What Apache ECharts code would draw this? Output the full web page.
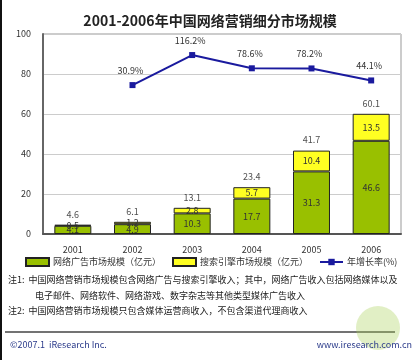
<!DOCTYPE html>
<html><head><meta charset="utf-8">
<script src="https://cdn.jsdelivr.net/npm/echarts@6/dist/echarts.min.js"></script>
<style>html,body{margin:0;padding:0;background:#fff}#c{width:420px;height:360px}</style>
</head><body><div id="c"></div>
<script>
var categories = ['2001','2002','2003','2004','2005','2006'];
var adValues = [4.1, 4.9, 10.3, 17.7, 31.3, 46.6];
var searchValues = [0.5, 1.2, 2.8, 5.7, 10.4, 13.5];
var totalValues = [4.6, 6.1, 13.1, 23.4, 41.7, 60.1];
var growthValues = [null, 30.9, 116.2, 78.6, 78.2, 44.1];
var yTicks = [0, 20, 40, 60, 80, 100];

var F = '"Noto Sans CJK SC", "Noto Sans", sans-serif';
var chart = echarts.init(document.getElementById('c'));
chart.setOption({
  animation: false,
  backgroundColor: '#fff',
  title: {
    text: '2001-2006年中国网络营销细分市场规模',
    left: 'center', top: 9,
    textStyle: { fontFamily: F, fontSize: 14, fontWeight: 'bold', color: '#222' }
  },
  grid: { left: 43, right: 19, top: 34, bottom: 126, show: true, borderColor: '#999', borderWidth: 1 },
  legend: {
    left: 25, top: 257, width: 395, itemWidth: 23, itemHeight: 8, itemGap: 11, padding: 0,
    textStyle: { fontFamily: F, fontSize: 9, color: '#333', padding: [0, 0, 0, -1] },
    data: [
      { name: '网络广告市场规模（亿元）', icon: 'rect' },
      { name: '搜索引擎市场规模（亿元）', icon: 'rect' },
      { name: '年增长率(%)' }
    ]
  },
  xAxis: {
    type: 'category', data: categories,
    axisLine: { lineStyle: { color: '#555', width: 2 } },
    axisTick: { show: false },
    axisLabel: { margin: 11, fontFamily: F, fontSize: 9, color: '#333' }
  },
  yAxis: [{
    type: 'value', min: yTicks[0], max: yTicks[yTicks.length - 1], interval: 20,
    axisLine: { show: true, lineStyle: { color: '#666', width: 2 } },
    axisTick: { show: false },
    splitLine: { lineStyle: { color: '#ccc' } },
    axisLabel: { margin: 12, fontFamily: F, fontSize: 9, color: '#333' }
  }, {
    type: 'value', min: -392, max: 176, show: false, splitLine: { show: false }
  }],
  series: [{
    name: '网络广告市场规模（亿元）', type: 'bar', stack: 's', barWidth: '62%',
    data: adValues,
    itemStyle: { color: '#99c000', borderColor: '#222', borderWidth: 1 },
    label: { show: true, position: 'inside', fontFamily: F, fontSize: 9, color: '#333' }
  }, {
    name: '搜索引擎市场规模（亿元）', type: 'bar', stack: 's',
    data: searchValues,
    itemStyle: { color: '#ffff22', borderColor: '#222', borderWidth: 1 },
    label: { show: true, position: 'inside', fontFamily: F, fontSize: 9, color: '#333' }
  }, {
    name: 'total', type: 'scatter', data: totalValues, symbolSize: 0.1,
    itemStyle: { color: 'transparent' },
    label: { show: true, position: 'top', distance: 6, fontFamily: F, fontSize: 9, color: '#222' },
    silent: true
  }, {
    name: '年增长率(%)', type: 'line', yAxisIndex: 1, data: growthValues,
    symbol: 'rect', symbolSize: 6,
    lineStyle: { color: '#1a1a9e', width: 2 },
    itemStyle: { color: '#1a1a9e' },
    label: { show: true, position: 'top', distance: 7, offset: [-2, 0], formatter: function (p) { return p.value + '%'; },
      fontFamily: F, fontSize: 9, color: '#333' }
  }],
  graphic: [
    { type: 'text', left: 8, top: 275, style: { text: '注1:  中国网络营销市场规模包含网络广告与搜索引擎收入；其中，网络广告收入包括网络媒体以及', fontFamily: F, fontSize: 9, fill: '#222' } },
    { type: 'text', left: 35, top: 291, style: { text: '电子邮件、网络软件、网络游戏、数字杂志等其他类型媒体广告收入', fontFamily: F, fontSize: 9, fill: '#222' } },
    { type: 'text', left: 8, top: 306, style: { text: '注2:  中国网络营销市场规模只包含媒体运营商收入，不包含渠道代理商收入', fontFamily: F, fontSize: 9, fill: '#222' } },
    { type: 'line', shape: { x1: 5, y1: 332, x2: 395, y2: 332 }, style: { stroke: '#444', lineWidth: 1.5 } },
    { type: 'circle', shape: { cx: 378, cy: 328, r: 22 }, style: { fill: 'rgba(170,210,90,0.35)' } },
    { type: 'text', left: 10, top: 340, style: { text: '©2007.1  iResearch Inc.', fontFamily: F, fontSize: 9, fill: '#2a3a8a' } },
    { type: 'text', right: 8, top: 340, style: { text: 'www.iresearch.com.cn', fontFamily: F, fontSize: 9, fill: '#2a3a8a' } },
    { type: 'line', shape: { x1: 1, y1: 0, x2: 1, y2: 360 }, style: { stroke: '#111', lineWidth: 2 } }
  ]
});
</script></body></html>
